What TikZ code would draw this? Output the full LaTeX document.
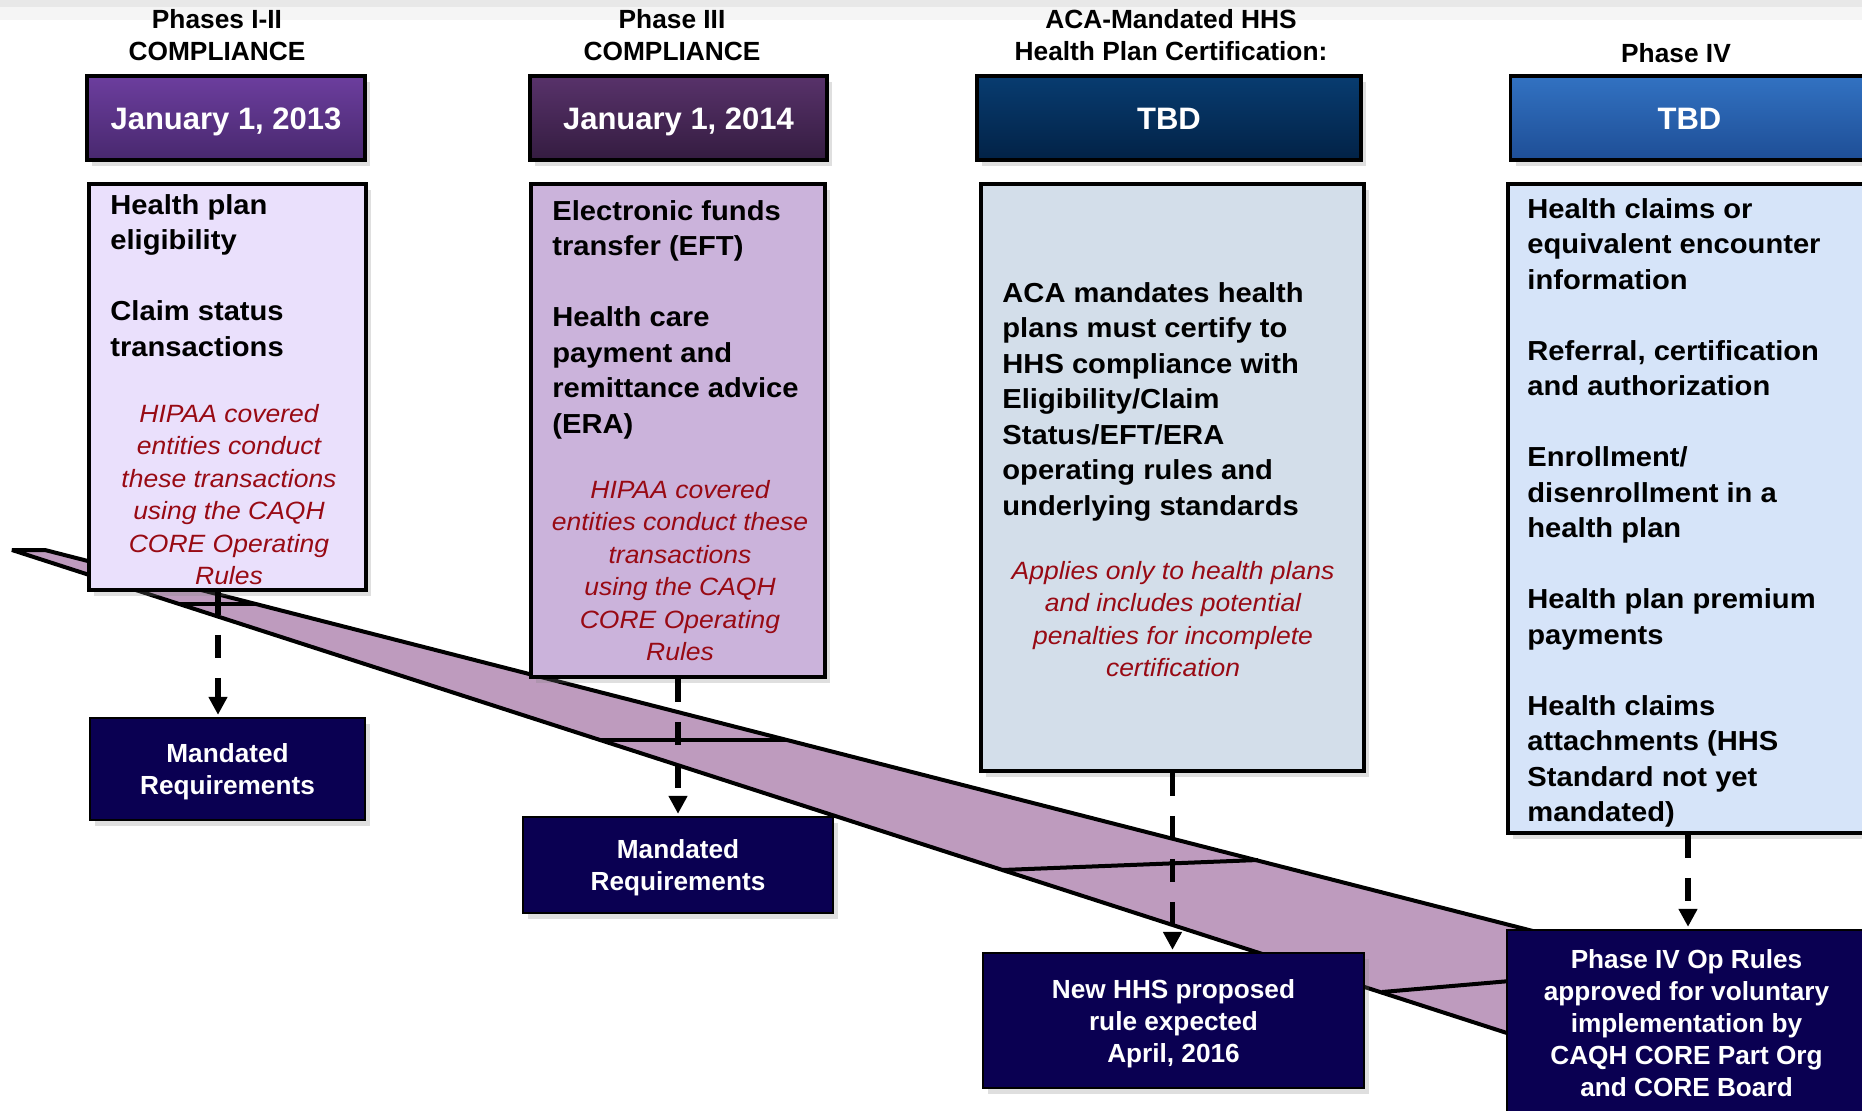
\documentclass[tikz,border=0pt]{standalone}
\usepackage{fontspec}
\setmainfont{Liberation Sans}
\newfontfamily\boxfont{Liberation Sans}[FakeStretch=1.06]
\usetikzlibrary{arrows.meta, shadows, positioning}

\definecolor{purpleA}{RGB}{108,62,158}
\definecolor{purpleAd}{RGB}{72,40,110}
\definecolor{purpleB}{RGB}{88,50,106}
\definecolor{purpleBd}{RGB}{52,28,64}
\definecolor{navyC}{RGB}{8,60,112}
\definecolor{navyCd}{RGB}{2,34,70}
\definecolor{blueD}{RGB}{50,114,194}
\definecolor{blueDd}{RGB}{30,78,150}
\definecolor{panelA}{RGB}{234,224,252}
\definecolor{panelB}{RGB}{203,179,219}
\definecolor{panelC}{RGB}{211,222,234}
\definecolor{panelD}{RGB}{214,228,249}
\definecolor{ribbon}{RGB}{190,155,190}
\definecolor{navy}{RGB}{10,0,82}
\definecolor{notered}{RGB}{152,10,20}

\newcommand{\firstln}{\rule{0pt}{0.8em}}

\tikzset{
  phasetitle/.style={align=center, font=\bfseries\fontsize{13.15}{16}\selectfont},
  datebox/.style={draw=black, line width=1.9pt, text=white, minimum height=42pt,
    text height=11.1pt, text depth=0pt,
    font=\bfseries\fontsize{15.5}{18}\selectfont,
    drop shadow={shadow xshift=2.5pt, shadow yshift=-3pt, opacity=.25}},
  panel/.style={draw=black, line width=1.9pt,
    drop shadow={shadow xshift=2.5pt, shadow yshift=-3pt, opacity=.25}},
  body/.style={anchor=north west, align=left,
    font=\boxfont\bfseries\fontsize{13.75}{17.75}\selectfont},
  note/.style={anchor=north, align=center, text=notered,
    font=\boxfont\itshape\fontsize{12.5}{16.25}\selectfont},
  reqbox/.style={draw=black, line width=1.2pt, fill=navy, text=white, align=center,
    text depth=0pt, font=\bfseries\fontsize{13.1}{16}\selectfont,
    drop shadow={shadow xshift=2.5pt, shadow yshift=-3pt, opacity=.25}},
  tick/.style={line width=2pt},
  dasharrow/.style={line width=2.7pt, dash pattern=on 11.5pt off 10pt,
    -{Triangle[length=9pt,width=9pt]}, shorten >=1pt}
}

\begin{document}
\begin{tikzpicture}[x=0.5pt, y=-0.5pt, every node/.style={inner sep=0pt}]
\useasboundingbox (0,0) rectangle (1862,1110);
\clip (0,0) rectangle (1862,1110);

% faint band at the top
\fill[black!9] (0,0) rectangle (1862,7);
\fill[black!4] (0,7) rectangle (1862,20);

% Timeline ribbon
\filldraw[fill=ribbon, line width=2pt, line join=bevel]
    (12,550) -- (45,550) -- (1900,1025) -- (1900,1160) -- cycle;

% Milestone ticks across the ribbon
\draw[tick] (179,604) -- (256,604);
\draw[tick] (600,740) -- (787,740);
\draw[tick] (1002,870) -- (1258,860);
\draw[tick] (1382,992) -- (1673,967);

% Phase titles
\node[phasetitle] (tA) at (217,35.5) {Phases I-II\\COMPLIANCE};
\node[phasetitle] (tB) at (672,35.5) {Phase III\\COMPLIANCE};
\node[phasetitle] (tC) at (1171,35.5) {ACA-Mandated HHS\\Health Plan Certification:};
\node[phasetitle, anchor=base] (tD) at (1676,62) {Phase IV};

% Dates
\node[datebox, top color=purpleA, bottom color=purpleAd, minimum width=139pt]
    (dA) at (226,118) {January 1, 2013};
\node[datebox, top color=purpleB, bottom color=purpleBd, minimum width=148.5pt]
    (dB) at (678.5,118) {January 1, 2014};
\node[datebox, top color=navyC, bottom color=navyCd, minimum width=192pt]
    (dC) at (1169,118) {TBD};
\node[datebox, top color=blueD, bottom color=blueDd, minimum width=179pt]
    (dD) at (1689.5,118) {TBD};

% Transaction panels
\node[panel, fill=panelA, minimum width=138.5pt, minimum height=203pt] (pA) at (227.5,387) {};
\node[body] (pAtxt) at (110,192)
    {\firstln Health plan\\eligibility\\[17.75pt]Claim status\\transactions};
\node[note] (pAnote) at (229,402)
    {\firstln HIPAA covered\\entities conduct\\these transactions\\using the CAQH\\CORE Operating\\Rules};

\node[panel, fill=panelB, minimum width=147pt, minimum height=246.5pt] (pB) at (678,430.5) {};
\node[body] (pBtxt) at (552,198)
    {\firstln Electronic funds\\transfer (EFT)\\[17.75pt]Health care\\payment and\\remittance advice\\(ERA)};
\node[note] (pBnote) at (680,478)
    {\firstln HIPAA covered\\entities conduct these\\transactions\\using the CAQH\\CORE Operating\\Rules};

\node[panel, fill=panelC, minimum width=191.5pt, minimum height=293.5pt] (pC) at (1172.5,477.5) {};
\node[body] (pCtxt) at (1002,280)
    {\firstln ACA mandates health\\plans must certify to\\HHS compliance with\\Eligibility/Claim\\Status/EFT/ERA\\operating rules and\\underlying standards};
\node[note] (pCnote) at (1173,559)
    {\firstln Applies only to health plans\\and includes potential\\penalties for incomplete\\certification};

\node[panel, fill=panelD, minimum width=180pt, minimum height=324.5pt] (pD) at (1688,508.5) {};
\node[body] (pDtxt) at (1527,196)
    {\firstln Health claims or\\equivalent encounter\\information\\[17.75pt]Referral, certification\\and authorization\\[17.75pt]Enrollment/\\disenrollment in a\\health plan\\[17.75pt]Health plan premium\\payments\\[17.75pt]Health claims\\attachments (HHS\\Standard not yet\\mandated)};

% Outcome boxes
\node[reqbox, minimum width=137.5pt, minimum height=51pt] (reqA) at (227.5,769) {Mandated\\Requirements};
\node[reqbox, minimum width=155pt, minimum height=48pt] (reqB) at (678,865) {Mandated\\Requirements};
\node[reqbox, minimum width=190.5pt, minimum height=67.5pt] (hhs) at (1173.5,1020.5)
    {New HHS proposed\\rule expected\\April, 2016};
\node[reqbox, minimum width=179.5pt, minimum height=92.5pt] (opbox) at (1686.5,1022.5)
    {Phase IV Op Rules\\approved for voluntary\\implementation by\\CAQH CORE Part Org\\and CORE Board};

% Dashed links
\coordinate (aA) at ([xshift=-4.75pt]pA.south);
\draw[dasharrow] (aA) -- (aA |- reqA.north);
\draw[dasharrow] (pB.south) -- (pB.south |- reqB.north);
\draw[dasharrow] (pC.south) -- (pC.south |- hhs.north);
\draw[dasharrow] (pD.south) -- (pD.south |- opbox.north);
\end{tikzpicture}
\end{document}
